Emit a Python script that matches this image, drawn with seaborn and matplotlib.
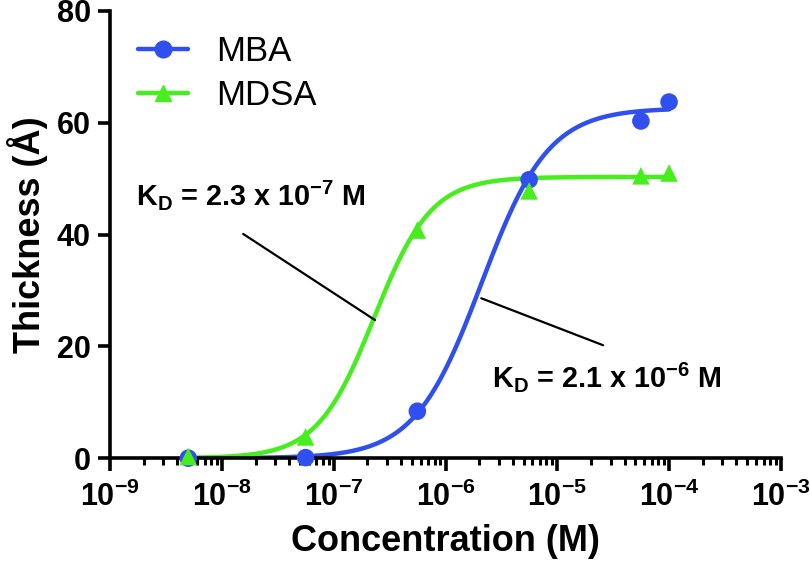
import numpy as np
import pandas as pd
import seaborn as sns
import matplotlib
matplotlib.use("Agg")
import matplotlib.pyplot as plt
from matplotlib.lines import Line2D
from matplotlib.ticker import LogLocator, FixedLocator, FuncFormatter, NullFormatter

# measured points
conc = [5e-9, 5.6e-8, 5.6e-7, 5.6e-6, 5.6e-5, 1e-4]
mba = [0.0, 0.1, 8.4, 49.8, 60.3, 63.7]
mdsa = [0.3, 3.8, 40.8, 47.8, 50.5, 51.0]

# fit parameters (one-site binding, Hill)
mba_fit = dict(top=62.6, kd=2.1e-6, n=1.45)
mdsa_fit = dict(top=50.3, kd=2.3e-7, n=1.7)

x_decades = [-9, -8, -7, -6, -5, -4, -3]

blue = "#2F4FEF"
green = "#47EE1E"

sns.set_theme(style="ticks")
plt.rcParams['font.family'] = ['Liberation Sans', 'DejaVu Sans']
plt.rcParams['mathtext.fontset'] = 'custom'
plt.rcParams['mathtext.rm'] = 'Liberation Sans:bold'
plt.rcParams['mathtext.bf'] = 'Liberation Sans:bold'
plt.rcParams['mathtext.it'] = 'Liberation Sans:bold'
plt.rcParams['mathtext.default'] = 'bf'
for k in ['text.color', 'axes.labelcolor', 'xtick.color', 'ytick.color']:
    plt.rcParams[k] = 'black'


def hill(x, top, kd, n):
    return top * x ** n / (kd ** n + x ** n)


xs = np.logspace(np.log10(conc[0]), np.log10(conc[-1]), 300)
curves = pd.concat([
    pd.DataFrame({'x': xs, 'y': hill(xs, **mba_fit), 'set': 'MBA'}),
    pd.DataFrame({'x': xs, 'y': hill(xs, **mdsa_fit), 'set': 'MDSA'}),
])
pts = pd.concat([
    pd.DataFrame({'x': conc, 'y': mba, 'set': 'MBA'}),
    pd.DataFrame({'x': conc, 'y': mdsa, 'set': 'MDSA'}),
])

fig = plt.figure(figsize=(8.1, 5.72), dpi=100)
ax = fig.add_axes([0.136, 0.199, 0.828, 0.782])

pal = {'MBA': blue, 'MDSA': green}
sns.lineplot(data=curves, x='x', y='y', hue='set', palette=pal, lw=3.2,
             legend=False, ax=ax, zorder=2)
sns.scatterplot(data=pts, x='x', y='y', hue='set', style='set',
                markers={'MBA': 'o', 'MDSA': '^'}, palette=pal, s=160,
                edgecolor='none', legend=False, ax=ax, zorder=3, clip_on=False)

ax.set_xscale('log')
ax.set_xlim(1e-9, 1e-3)
ax.set_ylim(0, 80)
ax.set_yticks([0, 20, 40, 60, 80])
ax.xaxis.set_major_locator(FixedLocator([10.0 ** d for d in x_decades]))
ax.xaxis.set_minor_locator(LogLocator(base=10, subs=np.arange(2, 10), numticks=20))
ax.xaxis.set_minor_formatter(NullFormatter())
ax.xaxis.set_major_formatter(FuncFormatter(
    lambda v, p: r'$\mathbf{10^{%d}}$' % int(round(np.log10(v)))))

for s in ['top', 'right']:
    ax.spines[s].set_visible(False)
for s in ['left', 'bottom']:
    ax.spines[s].set_linewidth(2.6)
    ax.spines[s].set_color('black')

ax.tick_params(axis='both', which='major', width=2.6, length=9, color='black',
               labelsize=22, pad=5)
ax.tick_params(axis='x', which='minor', width=2.2, length=5, color='black')
ax.tick_params(axis='x', which='major', pad=8)
for lab in ax.get_yticklabels():
    lab.set_fontweight('bold')

ax.set_xlabel('Concentration (M)', fontsize=26, fontweight='bold', labelpad=8)
ax.set_ylabel('Thickness (Å)', fontsize=26, fontweight='bold', labelpad=6)

# KD annotations
ax.plot([1.55e-8, 2.34e-7], [40.1, 24.7], color='black', lw=1.6)
ax.plot([2.09e-6, 2.57e-5], [28.6, 20.2], color='black', lw=1.6)
ax.text(1.7e-9, 47.1, r'K$_\mathbf{D}$ = 2.3 x 10$^{\mathbf{-7}}$ M',
        fontsize=20.7, fontweight='bold', va='center', ha='left')
ax.text(2.6e-6, 14.5, r'K$_\mathbf{D}$ = 2.1 x 10$^{\mathbf{-6}}$ M',
        fontsize=20.7, fontweight='bold', va='center', ha='left')

handles = [
    Line2D([], [], color=blue, lw=3.2, marker='o', markersize=12),
    Line2D([], [], color=green, lw=3.2, marker='^', markersize=12),
]
ax.legend(handles, ['MBA', 'MDSA'], loc='upper left',
          bbox_to_anchor=(-0.005, 1.015), frameon=False, fontsize=25,
          handlelength=1.45, handletextpad=0.8, labelspacing=0.3)

fig.savefig('out.png', dpi=100)
